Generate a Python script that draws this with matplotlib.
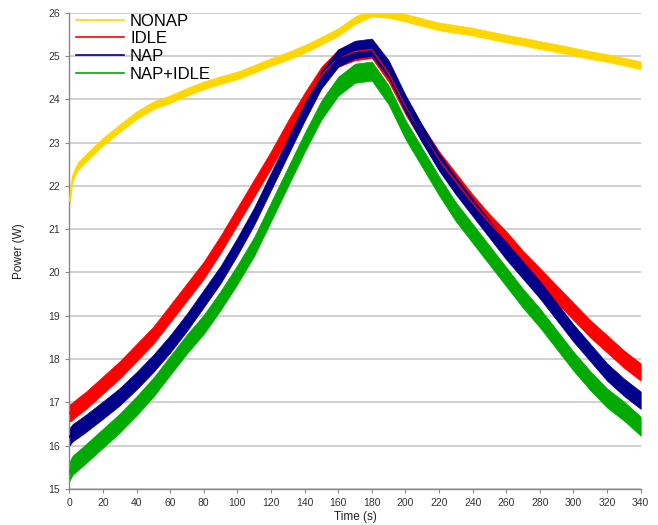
import matplotlib
matplotlib.use("Agg")
import matplotlib.pyplot as plt
import numpy as np

plt.rcParams['font.family'] = ['Liberation Sans', 'DejaVu Sans']

time_s = [0, 2, 5, 10, 20, 30, 40, 50, 60, 70, 80, 90, 100, 110, 120, 130, 140, 150,
          160, 170, 180, 190, 200, 210, 220, 230, 240, 250, 260, 270, 280, 290, 300,
          310, 320, 330, 340]

nonap = [21.65, 22.2, 22.45, 22.65, 23.02, 23.33, 23.63, 23.86, 24.0, 24.17, 24.32, 24.44,
         24.55, 24.7, 24.86, 25.0, 25.16, 25.35, 25.55, 25.82, 26.0, 25.97, 25.88, 25.78,
         25.68, 25.62, 25.56, 25.48, 25.4, 25.33, 25.25, 25.18, 25.1, 25.02, 24.95, 24.87, 24.78]
idle = [16.75, 16.8, 16.9, 17.05, 17.4, 17.75, 18.15, 18.55, 19.05, 19.55, 20.05, 20.65,
        21.3, 21.95, 22.6, 23.3, 23.95, 24.55, 24.95, 25.1, 25.15, 24.6, 23.85, 23.2,
        22.6, 22.1, 21.6, 21.15, 20.75, 20.3, 19.9, 19.5, 19.1, 18.7, 18.35, 18.0, 17.7]
nap = [16.2, 16.3, 16.38, 16.52, 16.82, 17.13, 17.5, 17.9, 18.35, 18.85, 19.4, 19.95,
       20.6, 21.3, 22.1, 22.9, 23.7, 24.45, 24.95, 25.15, 25.2, 24.7, 23.9, 23.2,
       22.55, 22.0, 21.5, 21.0, 20.5, 20.05, 19.6, 19.1, 18.6, 18.15, 17.7, 17.35, 17.05]
nap_idle = [15.4, 15.55, 15.65, 15.82, 16.17, 16.52, 16.92, 17.35, 17.85, 18.35, 18.8, 19.35,
            19.95, 20.6, 21.4, 22.2, 23.0, 23.75, 24.3, 24.6, 24.65, 24.1, 23.3, 22.65,
            22.0, 21.4, 20.9, 20.4, 19.9, 19.4, 18.95, 18.45, 17.95, 17.5, 17.1, 16.8, 16.45]

# half-width of the noise band seen around each trace (W)
nonap_noise = 0.09
idle_noise = 0.2
nap_noise = 0.2
nap_idle_noise = 0.22

labels = ["NONAP", "IDLE", "NAP", "NAP+IDLE"]
colors = ["#FFD700", "#FF0000", "#00008B", "#00AA00"]
series = [nonap, idle, nap, nap_idle]
noises = [nonap_noise, idle_noise, nap_noise, nap_idle_noise]

fig = plt.figure(figsize=(6.58, 5.25), dpi=100)
ax = fig.add_axes([0.1053, 0.0686, 0.8684, 0.9074])

t = np.array(time_s)
for lab, col, ys, nz in zip(labels, colors, series, noises):
    y = np.array(ys)
    ax.fill_between(t, y - nz, y + nz, color=col, linewidth=0.5, edgecolor=col, zorder=2)
    ax.plot(t, y, color=col, lw=1.0, label=lab, zorder=3)

ax.set_xlim(0, 340)
ax.set_ylim(15, 26)
ax.set_xticks(range(0, 341, 20))
ax.set_yticks(range(15, 27))
ax.grid(axis='y', color='#C8C8C8', lw=1.2, zorder=0)
ax.set_axisbelow(True)
for s in ['top', 'right']:
    ax.spines[s].set_visible(False)
for s in ['left', 'bottom']:
    ax.spines[s].set_color('#888888')
    ax.spines[s].set_linewidth(1.0)
ax.tick_params(axis='both', labelsize=7.5, colors='#333333', length=3, width=0.8)
ax.tick_params(axis='both', color='#888888')
ax.set_xlabel("Time (s)", fontsize=8.5, color='#222222', labelpad=2)
ax.set_ylabel("Power (W)", fontsize=8.5, color='#222222', labelpad=17)

leg = ax.legend(loc='upper left', frameon=False, fontsize=12, handlelength=2.9,
                handletextpad=0.35, labelspacing=0.16, borderaxespad=0.0,
                bbox_to_anchor=(0.0, 1.012))
for h in leg.get_lines():
    h.set_linewidth(1.2)

fig.savefig("out.png", dpi=100)
